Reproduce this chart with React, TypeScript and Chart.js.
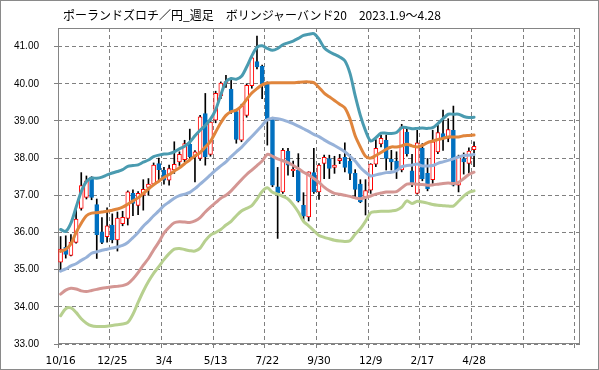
import React, { useEffect, useRef } from 'react';
import { Chart, registerables } from 'chart.js';

Chart.register(...registerables);

const TITLE = 'ポーランドズロチ／円_週足　ボリンジャーバンド20　2023.1.9～4.28';

// weekly slots on the category axis (81 weeks of data + empty future weeks)
const SLOT_COUNT = 101;
const AXIS_LABELS = ['10/16', '12/25', '3/4', '5/13', '7/22', '9/30', '12/9', '2/17', '4/28'];
const Y_TICKS = [33, 34, 35, 36, 37, 38, 39, 40, 41];

const OPEN = [
  35.20, 35.60, 35.38, 35.73, 36.65, 36.94, 37.49, 36.75, 36.02, 35.89,
  36.20, 35.80, 36.24, 36.38, 37.05, 36.73, 37.00, 37.21, 37.30, 37.85,
  37.68, 37.41, 37.68, 37.90, 37.96, 38.37, 38.03, 37.99, 39.20, 38.10,
  39.02, 39.67, 40.02, 39.86, 39.25, 38.48, 39.15, 39.95, 40.60, 40.47,
  40.00, 39.06, 37.23, 37.09, 38.19, 37.66, 37.68, 36.73, 36.42, 37.61,
  37.09, 37.86, 37.99, 37.75, 37.93, 38.02, 37.92, 37.59, 37.30, 36.96,
  37.14, 37.84, 38.38, 38.48, 37.97, 37.92, 37.68, 38.70, 37.66, 37.05,
  38.26, 37.59, 37.42, 38.17, 38.66, 38.53, 38.75, 37.27, 37.99, 37.86,
  38.23,
];
const HIGH = [
  35.89, 35.91, 35.94, 36.68, 37.61, 37.52, 37.50, 36.90, 36.40, 36.66,
  36.50, 36.55, 36.57, 37.12, 37.15, 37.10, 37.42, 37.45, 37.87, 38.00,
  37.75, 37.81, 38.44, 38.17, 38.48, 38.78, 38.20, 39.15, 39.74, 39.02,
  39.80, 40.05, 40.23, 40.15, 39.30, 39.45, 40.00, 40.75, 41.28, 40.50,
  40.05, 39.10, 37.75, 38.26, 38.26, 37.92, 38.12, 37.07, 37.63, 38.26,
  37.85, 38.08, 38.08, 38.05, 38.10, 38.41, 38.10, 37.69, 37.42, 37.42,
  37.85, 38.50, 38.62, 38.62, 38.21, 38.17, 38.91, 38.78, 38.10, 38.75,
  38.39, 37.99, 38.75, 38.89, 39.29, 39.06, 39.40, 38.08, 38.14, 38.28,
  38.44,
];
const LOW = [
  34.95, 35.31, 35.37, 35.71, 36.60, 36.90, 36.88, 35.30, 35.70, 35.74,
  35.72, 35.50, 36.18, 36.20, 36.45, 36.48, 36.60, 37.00, 37.28, 37.42,
  37.30, 37.27, 37.59, 37.80, 37.90, 37.95, 37.36, 37.94, 37.81, 38.05,
  38.95, 39.60, 39.90, 39.20, 38.40, 38.44, 39.10, 39.88, 40.40, 39.60,
  38.35, 37.23, 35.84, 37.05, 37.54, 37.50, 36.82, 36.31, 36.31, 37.05,
  36.89, 37.45, 37.45, 37.59, 37.85, 37.63, 37.42, 36.96, 36.80, 36.47,
  37.05, 37.77, 38.30, 37.68, 37.68, 37.45, 37.63, 38.05, 37.23, 37.03,
  37.39, 37.12, 37.32, 38.12, 38.21, 38.44, 37.25, 37.09, 37.57, 37.59,
  37.77,
];
const CLOSE = [
  35.55, 35.41, 35.74, 36.36, 37.26, 37.39, 36.94, 35.94, 35.73, 36.18,
  35.80, 36.39, 36.41, 37.09, 36.78, 37.05, 37.16, 37.30, 37.81, 37.69,
  37.41, 37.72, 37.83, 38.10, 38.39, 38.03, 38.17, 39.11, 38.03, 38.97,
  39.74, 40.02, 40.06, 39.25, 38.50, 39.40, 39.96, 40.70, 40.45, 40.00,
  39.06, 37.27, 37.07, 38.21, 37.81, 37.70, 36.85, 36.44, 37.63, 37.09,
  37.81, 38.02, 37.72, 37.81, 37.99, 37.75, 37.59, 37.16, 36.82, 37.13,
  37.84, 38.26, 38.53, 37.99, 37.90, 37.68, 38.84, 38.12, 37.32, 38.41,
  37.45, 37.18, 38.44, 38.69, 38.53, 38.77, 37.27, 38.05, 37.90, 38.19,
  38.32,
];

// Bollinger bands (20 weeks): +2σ, +1σ, moving average, -1σ, -2σ
const UPPER2 = [
  36.08, 36.03, 36.25, 36.68, 37.10, 37.37, 37.46, 37.46, 37.49, 37.55,
  37.60, 37.64, 37.69, 37.78, 37.80, 37.82, 37.89, 37.95, 38.04, 38.08,
  38.11, 38.12, 38.17, 38.25, 38.32, 38.43, 38.60, 38.75, 38.88, 39.05,
  39.30, 39.70, 40.05, 40.14, 40.12, 40.20, 40.45, 40.75, 40.98, 41.02,
  40.95, 40.90, 40.95, 41.05, 41.10, 41.15, 41.22, 41.30, 41.33, 41.35,
  41.20, 40.97, 40.86, 40.79, 40.72, 40.62, 40.28, 39.68, 39.15, 38.74,
  38.46, 38.55, 38.67, 38.67, 38.66, 38.69, 38.82, 38.82, 38.79, 38.80,
  38.81, 38.80, 38.82, 38.93, 39.06, 39.18, 39.18, 39.18, 39.12, 39.09,
  39.10,
];
const UPPER1 = [
  35.49, 35.55, 35.69, 36.00, 36.25, 36.45, 36.52, 36.53, 36.55, 36.57,
  36.60, 36.63, 36.68, 36.76, 36.85, 36.93, 37.05, 37.17, 37.28, 37.38,
  37.48, 37.56, 37.65, 37.74, 37.85, 37.95, 38.06, 38.15, 38.30, 38.45,
  38.70, 38.95, 39.15, 39.25, 39.29, 39.40, 39.58, 39.75, 39.87, 39.97,
  40.02, 40.03, 40.03, 40.03, 40.03, 40.03, 40.04, 40.05, 40.05, 40.03,
  39.90, 39.75, 39.65, 39.55, 39.45, 39.35, 39.05, 38.60, 38.30, 38.05,
  38.00, 38.07, 38.15, 38.24, 38.30, 38.30, 38.33, 38.37, 38.33, 38.30,
  38.34, 38.42, 38.46, 38.50, 38.53, 38.57, 38.57, 38.57, 38.60, 38.61,
  38.62,
];
const MIDDLE = [
  34.96, 35.02, 35.10, 35.16, 35.25, 35.33, 35.44, 35.48, 35.52, 35.55,
  35.58, 35.61, 35.65, 35.73, 35.86, 36.00, 36.17, 36.30, 36.45, 36.58,
  36.72, 36.82, 36.92, 36.99, 37.03, 37.08, 37.18, 37.30, 37.42, 37.55,
  37.68, 37.79, 37.90, 38.04, 38.17, 38.29, 38.44, 38.58, 38.73, 38.88,
  39.03, 39.07, 39.06, 39.03, 38.98, 38.93, 38.86, 38.79, 38.72, 38.64,
  38.58, 38.49, 38.41, 38.34, 38.26, 38.17, 38.05, 37.92, 37.75, 37.62,
  37.52, 37.55, 37.58, 37.61, 37.62, 37.66, 37.77, 37.80, 37.81, 37.84,
  37.79, 37.79, 37.80, 37.86, 37.90, 37.94, 37.98, 38.03, 38.07, 38.08,
  38.10,
];
const LOWER1 = [
  34.34, 34.45, 34.50, 34.48, 34.43, 34.41, 34.44, 34.47, 34.50, 34.52,
  34.54, 34.55, 34.57, 34.62, 34.75, 34.92, 35.12, 35.30, 35.53, 35.74,
  35.98, 36.14, 36.26, 36.29, 36.28, 36.27, 36.31, 36.40, 36.55, 36.68,
  36.80, 36.92, 37.00, 37.12, 37.27, 37.42, 37.56, 37.68, 37.80, 37.92,
  38.10, 38.05, 37.98, 37.93, 37.88, 37.80, 37.72, 37.62, 37.55, 37.45,
  37.35, 37.22, 37.12, 37.05, 37.03, 37.00, 36.97, 36.93, 36.91, 36.94,
  36.98, 37.03, 37.06, 37.09, 37.09, 37.10, 37.20, 37.30, 37.31, 37.30,
  37.29, 37.27, 37.28, 37.30, 37.32, 37.33, 37.32, 37.35, 37.45, 37.56,
  37.62,
];
const LOWER2 = [
  33.76, 33.95, 33.97, 33.85, 33.68, 33.56, 33.49, 33.47, 33.47, 33.48,
  33.50, 33.52, 33.54, 33.58, 33.80, 34.12, 34.42, 34.68, 34.90, 35.08,
  35.27, 35.43, 35.55, 35.57, 35.54, 35.51, 35.50, 35.58, 35.78, 35.93,
  36.00, 36.08, 36.20, 36.30, 36.45, 36.58, 36.65, 36.72, 36.90, 37.10,
  37.20, 37.08, 37.03, 36.97, 36.90, 36.75, 36.55, 36.30, 36.18, 36.05,
  35.92, 35.87, 35.83, 35.79, 35.77, 35.76, 35.78, 35.95, 36.10, 36.30,
  36.53, 36.56, 36.57, 36.57, 36.58, 36.60, 36.68, 36.85, 36.78, 36.84,
  36.82, 36.79, 36.75, 36.73, 36.72, 36.71, 36.71, 36.84, 36.98, 37.08,
  37.12,
];

const UP_BORDER = '#ff0000';
const UP_FILL = '#ffffff';
const DOWN_FILL = '#0070c0';
const GRID = '#808080';

const frameLine = {
  id: 'frameLine',
  beforeDatasetsDraw(chart: any) {
    const { ctx, chartArea } = chart;
    ctx.save();
    ctx.strokeStyle = '#858585';
    ctx.lineWidth = 1;
    ctx.setLineDash([]);
    const l = Math.round(chartArea.left) + 0.5;
    const t = Math.round(chartArea.top) + 0.5;
    const r = Math.round(chartArea.right) - 0.5;
    const b = Math.round(chartArea.bottom) - 0.5;
    ctx.strokeRect(l, t, r - l, b - t);
    ctx.restore();
  },
};

export default function App() {
  const canvasRef = useRef<HTMLCanvasElement | null>(null);

  useEffect(() => {
    const canvas = canvasRef.current;
    if (!canvas) return;

    const labels = Array.from({ length: SLOT_COUNT }, (_, i) =>
      i % 10 === 0 && i / 10 < AXIS_LABELS.length ? AXIS_LABELS[i / 10] : ''
    );
    const bodies = OPEN.map((o, i) => [o, CLOSE[i]]);
    const wicks = LOW.map((l, i) => [l, HIGH[i]]);
    const isUp = OPEN.map((o, i) => CLOSE[i] >= o);

    const line = (data: number[], color: string) => ({
      type: 'line' as const,
      data,
      borderColor: color,
      borderWidth: 3,
      pointRadius: 0,
      tension: 0.3,
      fill: false,
      borderJoinStyle: 'round' as const,
      borderCapStyle: 'round' as const,
      order: 0,
    });

    const chart = new Chart(canvas, {
      type: 'bar',
      data: {
        labels,
        datasets: [
          line(UPPER2, '#4a9bb0'),
          line(UPPER1, '#e0853c'),
          line(MIDDLE, '#97b2d9'),
          line(LOWER1, '#d49693'),
          line(LOWER2, '#b7d08f'),
          {
            type: 'bar',
            data: bodies as any,
            backgroundColor: isUp.map((u) => (u ? UP_FILL : DOWN_FILL)),
            borderColor: isUp.map((u) => (u ? UP_BORDER : DOWN_FILL)),
            borderWidth: 1,
            borderSkipped: false,
            barThickness: 4,
            grouped: false,
            order: 1,
          } as any,
          {
            type: 'bar',
            data: wicks as any,
            backgroundColor: '#000000',
            borderWidth: 0,
            barThickness: 1,
            grouped: false,
            order: 2,
          } as any,
        ],
      },
      options: {
        animation: false,
        responsive: false,
        maintainAspectRatio: false,
        layout: { padding: { top: 27, right: 18, left: 0, bottom: 0 } },
        plugins: {
          legend: { display: false },
          tooltip: { enabled: false },
          title: { display: false },
        },
        scales: {
          x: {
            type: 'category',
            offset: true,
            grid: {
              offset: true,
              color: (c: any) => (c.index % 10 === 0 ? GRID : 'rgba(0,0,0,0)'),
              lineWidth: 1,
              drawTicks: true,
              tickLength: 4,
            },
            border: { display: false, dash: [4, 3] },
            ticks: {
              autoSkip: false,
              maxRotation: 0,
              minRotation: 0,
              padding: 7,
              color: '#000000',
              font: { family: 'DejaVu Sans', size: 10.5 },
              callback: (_v: any, i: number) => labels[i],
            },
            afterFit: (s: any) => {
              s.height = 25;
            },
          },
          y: {
            type: 'linear',
            min: 33,
            max: 41.5,
            afterBuildTicks: (s: any) => {
              s.ticks = Y_TICKS.map((v) => ({ value: v }));
            },
            grid: { color: GRID, lineWidth: 1, drawTicks: true, tickLength: 4 },
            border: { display: false, dash: [4, 3] },
            ticks: {
              padding: 15,
              color: '#000000',
              font: { family: 'Liberation Sans', size: 10 },
              callback: (v: any) => Number(v).toFixed(2),
            },
            afterFit: (s: any) => {
              s.width = 57;
            },
          },
        },
      },
      plugins: [frameLine],
    });

    return () => chart.destroy();
  }, []);

  return (
    <div
      style={{
        position: 'absolute',
        left: 0,
        top: 0,
        width: 597,
        height: 368,
        border: '1px solid #8a8a8a',
        background: '#ffffff',
      }}
    >
      <canvas ref={canvasRef} width={597} height={368} style={{ display: 'block' }} />
      <div
        style={{
          position: 'absolute',
          left: 62,
          top: 7,
          fontFamily: '"Noto Sans CJK JP", sans-serif',
          fontSize: 12,
          lineHeight: '14px',
          color: '#000000',
          whiteSpace: 'pre',
        }}
      >
        {TITLE}
      </div>
    </div>
  );
}
